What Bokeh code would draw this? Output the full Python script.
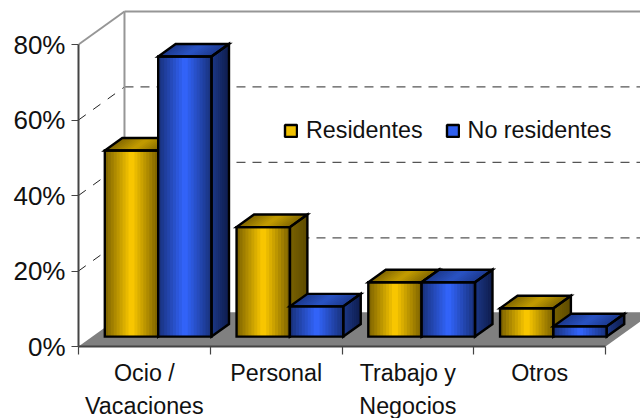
from bokeh.plotting import figure
from bokeh.models import Range1d, LinearAxis, FixedTicker, Legend, LegendItem
from bokeh.embed import file_html
from bokeh.resources import INLINE

line1_labels = ["Ocio /", "Personal", "Trabajo y", "Otros"]
line2_labels = ["Vacaciones", "", "Negocios", ""]
y_ticks = [0, 20, 40, 60, 80]
y_tick_labels = ["0%", "20%", "40%", "60%", "80%"]
residentes = [49.3, 29.0, 14.4, 7.5]
no_residentes = [74.2, 8.0, 14.4, 2.7]

FONT = "Liberation Sans"
DX, DY = 0.349, 8.75          # projection of full depth, in data units
Z0, Z1 = 0.30, 0.68           # depth span of the bars
BAR_IN, BAR_MID, BAR_OUT = 0.095, 0.5, 0.905
N = 18


def proj(x, y, z):
    return x + z * DX, y + z * DY


def mix(a, b, t):
    return "#%02x%02x%02x" % tuple(round(a[i] + (b[i] - a[i]) * t) for i in range(3))


YEL = dict(front=((122, 96, 0), (255, 204, 0)), side=((122, 98, 0), (92, 74, 0)), top=((128, 102, 0), (196, 157, 0)))
BLU = dict(front=((24, 48, 120), (51, 102, 255)), side=((28, 56, 136), (14, 28, 76)), top=((28, 56, 140), (42, 84, 196)))

p = figure(width=640, height=418, frame_width=562, frame_height=346,
           x_range=Range1d(0, 562 / 131.75), y_range=Range1d(0, 346 / 3.775),
           output_backend="svg", toolbar_location=None,
           min_border_left=78, min_border_right=0, min_border_top=0, min_border_bottom=0,
           x_axis_location="below", margin=(0, 0, 0, 0))
p.outline_line_color = None
p.grid.visible = False
p.background_fill_color = "white"

# walls
back_l = proj(0, 0, 1)
for v in y_ticks[1:-1]:
    fx, fy = proj(0, v, 0)
    bx, by = proj(0, v, 1)
    p.line([fx, bx], [fy, by], line_color="#222222", line_width=1, line_dash="9 9")
    p.line([bx, 5], [by, by], line_color="#555555", line_width=1.2, line_dash="9 7")
tx, ty = proj(0, y_ticks[-1], 1)
fx, fy = proj(0, y_ticks[-1], 0)
p.line([back_l[0], tx], [back_l[1], ty], line_color="#969696", line_width=2)
p.line([fx, tx], [fy, ty], line_color="#969696", line_width=2)
p.line([tx, 5], [ty, ty], line_color="#969696", line_width=2)

# floor
fl = [proj(0, 0, 0), proj(4, 0, 0), proj(4, 0, 1.04), proj(0, 0, 1.04)]
p.patch([a[0] for a in fl], [a[1] for a in fl], fill_color="#808080", line_color=None)


def ramp(pair, t, sym=True):
    if sym:
        return mix(pair[0], pair[1], 1 - abs(2 * t - 1))
    return mix(pair[0], pair[1], t)


def bar(x0, x1, v, cols):
    xs, ys, cs = [], [], []
    for i in range(N):
        a = x0 + (x1 - x0) * i / N
        c = [proj(a, v, Z0), proj(x1, v, Z0), proj(x1, v, Z1), proj(a, v, Z1)]
        xs.append([q[0] for q in c]); ys.append([q[1] for q in c]); cs.append(ramp(cols["top"], (i + .5) / N))
    for i in range(8):
        z0 = Z0 + (Z1 - Z0) * i / 8
        c = [proj(x1, 0, z0), proj(x1, 0, Z1), proj(x1, v, Z1), proj(x1, v, z0)]
        xs.append([q[0] for q in c]); ys.append([q[1] for q in c]); cs.append(ramp(cols["side"], (i + .5) / 8, False))
    for i in range(N):
        a = x0 + (x1 - x0) * i / N
        c = [proj(a, 0, Z0), proj(x1, 0, Z0), proj(x1, v, Z0), proj(a, v, Z0)]
        xs.append([q[0] for q in c]); ys.append([q[1] for q in c]); cs.append(ramp(cols["front"], (i + .5) / N))
    p.patches(xs, ys, fill_color=cs, line_color=None)
    outline = [
        [proj(x0, 0, Z0), proj(x1, 0, Z0), proj(x1, v, Z0), proj(x0, v, Z0)],
        [proj(x0, v, Z0), proj(x1, v, Z0), proj(x1, v, Z1), proj(x0, v, Z1)],
        [proj(x1, 0, Z0), proj(x1, 0, Z1), proj(x1, v, Z1), proj(x1, v, Z0)],
    ]
    p.patches([[q[0] for q in o] for o in outline], [[q[1] for q in o] for o in outline],
              fill_color=None, line_color="black", line_width=2.4, line_join="miter")


for i in range(len(line1_labels)):
    bar(i + BAR_IN, i + BAR_MID, residentes[i], YEL)
    bar(i + BAR_MID, i + BAR_OUT, no_residentes[i], BLU)

# axes
centers = [i + 0.5 for i in range(4)]
ax = p.xaxis[0]
ax.bounds = (0, 4)
ax.ticker = FixedTicker(ticks=centers, minor_ticks=[0, 1, 2, 3, 4])
ax.major_label_overrides = dict(zip(centers, line1_labels))
ax.major_tick_out = 0
ax.major_tick_in = 0
ax.minor_tick_out = 8
ax.minor_tick_in = 0
ax.minor_tick_line_color = "#444444"
ax.minor_tick_line_width = 1.2
ax.axis_line_color = "#444444"
ax.axis_line_width = 2
ax.major_label_text_font = FONT
ax.major_label_text_font_size = "23.3px"
ax.major_label_text_color = "#111111"
ax.major_label_standoff = 5

ax2 = LinearAxis(ticker=FixedTicker(ticks=centers), major_label_overrides=dict(zip(centers, line2_labels)),
                 axis_line_color=None, major_tick_line_color=None, minor_tick_line_color=None,
                 major_label_text_font=FONT, major_label_text_font_size="23.3px",
                 major_label_text_color="#111111", major_label_standoff=-2)
p.add_layout(ax2, "below")

ay = p.yaxis[0]
ay.bounds = (0, 80)
ay.ticker = FixedTicker(ticks=y_ticks)
ay.major_label_overrides = dict(zip(y_ticks, y_tick_labels))
ay.major_tick_out = 7
ay.major_tick_in = 0
ay.minor_tick_line_color = None
ay.major_tick_line_color = "#444444"
ay.major_tick_line_width = 1.2
ay.axis_line_color = "#444444"
ay.axis_line_width = 2
ay.major_label_text_font = FONT
ay.major_label_text_font_size = "26px"
ay.major_label_text_color = "#111111"
ay.major_label_standoff = 6

# legend
nan = float("nan")
s1 = p.quad(left=[nan], right=[nan], top=[nan], bottom=[nan], fill_color="#f0c000", line_color="black", line_width=2.4)
s2 = p.quad(left=[nan], right=[nan], top=[nan], bottom=[nan], fill_color="#3060f0", line_color="black", line_width=2.4)
leg = Legend(items=[LegendItem(label="Residentes", renderers=[s1]), LegendItem(label="No residentes", renderers=[s2])],
             orientation="horizontal", location=(205, 202), background_fill_alpha=0, border_line_color=None,
             glyph_width=15, glyph_height=15, label_standoff=8, spacing=22, padding=6,
             label_text_font=FONT, label_text_font_size="23.3px", label_text_color="#111111", margin=0)
p.add_layout(leg)

open("out.html", "w").write(file_html(p, INLINE))
